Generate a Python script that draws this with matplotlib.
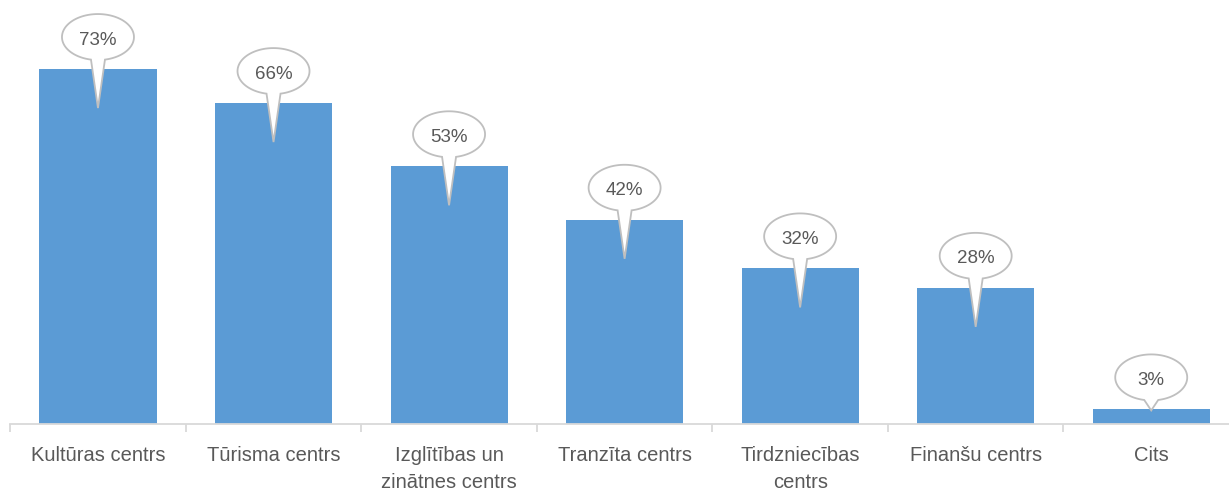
import numpy as np
import matplotlib
matplotlib.use("Agg")
import matplotlib.pyplot as plt
from matplotlib.path import Path
from matplotlib.patches import PathPatch
from matplotlib.transforms import IdentityTransform

categories = ["Kultūras centrs", "Tūrisma centrs", "Izglītības un\nzinātnes centrs",
              "Tranzīta centrs", "Tirdzniecības\ncentrs", "Finanšu centrs", "Cits"]
values = [73, 66, 53, 42, 32, 28, 3]
labels = ["73%", "66%", "53%", "42%", "32%", "28%", "3%"]

plt.rcParams['font.family'] = ['Liberation Sans', 'DejaVu Sans']
tick_fs = 14.5
lab_fs = 13.5

W, H, DPI = 1229, 490, 100
fig = plt.figure(figsize=(W / DPI, H / DPI), dpi=DPI)
ax = fig.add_axes([10.2 / W, 66 / H, 1228.8 / W, 424 / H])
ax.set_xlim(-0.5, len(categories) - 0.5)
ax.set_ylim(0, 87.2)

x = np.arange(len(categories))
ax.bar(x, values, width=0.667, color="#5B9BD5", zorder=2)

for s in ["top", "right", "left"]:
    ax.spines[s].set_visible(False)
ax.spines["bottom"].set_color("#D9D9D9")
ax.spines["bottom"].set_linewidth(1.3)
ax.set_yticks([])
ax.set_xticks(x)
ax.set_xticklabels(categories, fontsize=tick_fs, color="#595959", linespacing=1.5)
ax.tick_params(axis="x", which="major", length=0, pad=16)
ax.set_xticks(np.arange(-0.5, len(categories) + 0.5, 1), minor=True)
ax.tick_params(axis="x", which="minor", length=6, width=1.3, color="#D9D9D9", direction="out")

# callouts drawn in pixel space
a, b = 36.0, 23.0
hw = 7.0
for xi, v, lab in zip(x, values, labels):
    px, py = ax.transData.transform((xi, v))
    cx, cy = px, py + 32
    tip_y = py - 39 if v > 10 else py - 1
    t0 = np.arctan2(-np.sqrt(1 - (hw / a) ** 2), hw / a)
    t1 = np.arctan2(-np.sqrt(1 - (hw / a) ** 2), -hw / a) + 2 * np.pi
    ts = np.linspace(t0, t1, 120)
    pts = [(cx + a * np.cos(t), cy + b * np.sin(t)) for t in ts]
    pts.append((cx, tip_y))
    pts.append(pts[0])
    codes = [Path.MOVETO] + [Path.LINETO] * (len(pts) - 2) + [Path.CLOSEPOLY]
    patch = PathPatch(Path(pts, codes), facecolor="white", edgecolor="#BFBFBF",
                      linewidth=1.3, transform=IdentityTransform(), zorder=5, clip_on=False)
    ax.add_artist(patch)
    fig.text(cx / W, (cy - 3) / H, lab, ha="center", va="center", fontsize=lab_fs,
             color="#595959", zorder=6)

fig.savefig("out.png", dpi=DPI)
